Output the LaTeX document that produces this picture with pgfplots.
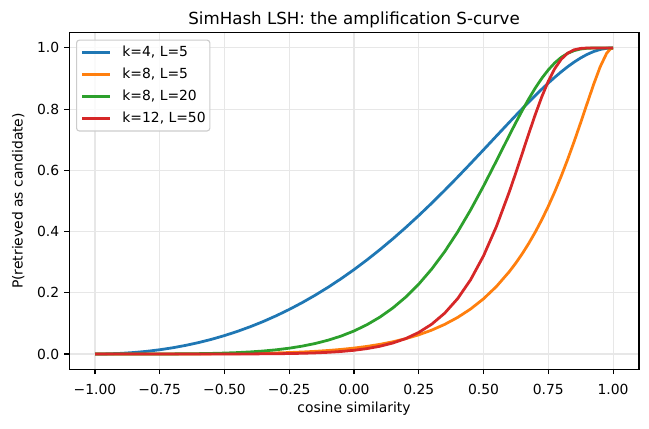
\documentclass[border=0pt]{standalone}
\usepackage{fontspec}
\setmainfont{DejaVu Sans}
\usepackage{pgfplots}
\pgfplotsset{compat=1.18}
\usepackage{pgfplotstable}

\definecolor{tabblue}{HTML}{1F77B4}
\definecolor{taborange}{HTML}{FF7F0E}
\definecolor{tabgreen}{HTML}{2CA02C}
\definecolor{tabred}{HTML}{D62728}
\definecolor{gridgray}{RGB}{231,231,231}
\definecolor{legframe}{RGB}{204,204,204}

% P(candidate) = 1 - (1 - p^k)^L with p = 1 - arccos(s)/pi
\pgfplotstableread{
s      kfourLfive keightLfive keightLtwenty ktwelveLfifty
-1.000 0.000000 0.000000 0.000000 0.000000
-0.990 0.000021 0.000000 0.000000 0.000000
-0.975 0.000129 0.000000 0.000000 0.000000
-0.950 0.000522 0.000000 0.000000 0.000000
-0.900 0.002122 0.000001 0.000004 0.000000
-0.850 0.004854 0.000005 0.000019 0.000000
-0.800 0.008771 0.000015 0.000062 0.000000
-0.750 0.013927 0.000039 0.000157 0.000000
-0.700 0.020378 0.000084 0.000338 0.000003
-0.650 0.028177 0.000162 0.000650 0.000009
-0.600 0.037381 0.000288 0.001152 0.000022
-0.550 0.048044 0.000480 0.001919 0.000047
-0.500 0.060222 0.000762 0.003044 0.000094
-0.450 0.073968 0.001163 0.004642 0.000177
-0.400 0.089336 0.001718 0.006855 0.000319
-0.350 0.106363 0.002471 0.009848 0.000550
-0.300 0.125120 0.003475 0.013826 0.000918
-0.250 0.145632 0.004792 0.019032 0.001487
-0.200 0.167950 0.006501 0.025752 0.002351
-0.150 0.192106 0.008692 0.034318 0.003637
-0.100 0.218114 0.011476 0.045119 0.005521
-0.050 0.246009 0.014985 0.058607 0.008244
 0.000 0.275804 0.019379 0.075293 0.012134
 0.050 0.307477 0.024847 0.095747 0.017628
 0.100 0.341034 0.031619 0.120604 0.025313
 0.150 0.376426 0.039967 0.150536 0.035964
 0.200 0.413602 0.050221 0.186248 0.050602
 0.250 0.452493 0.062776 0.228440 0.070552
 0.300 0.492973 0.078102 0.277675 0.097472
 0.350 0.534905 0.096783 0.334462 0.133453
 0.400 0.578095 0.119487 0.398904 0.180914
 0.450 0.622295 0.147051 0.470710 0.242534
 0.500 0.667237 0.180422 0.548863 0.320814
 0.550 0.712488 0.220855 0.631472 0.417279
 0.600 0.757591 0.269659 0.715460 0.531096
 0.625 0.779915 0.297661 0.756676 0.593084
 0.650 0.801943 0.328385 0.796538 0.656923
 0.675 0.823616 0.362024 0.834340 0.721002
 0.700 0.844805 0.398820 0.869376 0.783047
 0.725 0.865394 0.438972 0.900931 0.840674
 0.750 0.885217 0.482698 0.928387 0.891242
 0.775 0.904208 0.530132 0.951258 0.932548
 0.800 0.922105 0.581373 0.969288 0.963172
 0.825 0.938753 0.636364 0.982514 0.983118
 0.850 0.953939 0.694794 0.991323 0.993955
 0.875 0.967418 0.756058 0.996460 0.998497
 0.900 0.978946 0.818857 0.998923 0.999789
 0.925 0.988226 0.880836 0.999798 0.999989
 0.950 0.994964 0.937877 0.999985 1.000000
 0.975 0.998895 0.982201 1.000000 1.000000
 0.990 0.999865 0.997210 1.000000 1.000000
 1.000 1.000000 1.000000 1.000000 1.000000
}\scurve

\begin{document}
\begin{tikzpicture}
\useasboundingbox (-49.75pt,-42.26pt) rectangle (417.53pt,265.9pt);
\begin{axis}[
  at={(0pt,0pt)}, anchor=south west,
  scale only axis,
  width=410.3pt, height=242.4pt,
  xmin=-1.1, xmax=1.1,
  ymin=-0.05, ymax=1.05,
  axis lines=box,
  axis line style={black, line width=0.8pt},
  every tick/.style={black, line width=0.8pt},
  tick align=outside,
  major tick length=3.5pt,
  xtick pos=bottom, ytick pos=left,
  xtick={-1,-0.75,-0.5,-0.25,0,0.25,0.5,0.75,1},
  xticklabels={−1.00,−0.75,−0.50,−0.25,0.00,0.25,0.50,0.75,1.00},
  ytick={0,0.2,0.4,0.6,0.8,1},
  yticklabels={0.0,0.2,0.4,0.6,0.8,1.0},
  tick label style={font=\fontsize{10}{12}\selectfont},
  xticklabel style={inner sep=0pt, anchor=base, yshift=-14.5pt},
  yticklabel style={inner sep=0pt, anchor=east, xshift=-3.5pt},
  grid=major,
  major grid style={gridgray, line width=0.8pt},
  title={SimHash LSH: the amplification S-curve},
  title style={at={(axis description cs:0.5,1)}, anchor=base, yshift=0pt,
    font=\fontsize{12}{14.4}\selectfont, inner sep=0pt},
  xlabel={cosine similarity},
  xlabel style={at={(axis description cs:0.5,-0.128)}, anchor=base,
    font=\fontsize{10}{12}\selectfont, inner sep=0pt},
  ylabel={P(retrieved as candidate)},
  ylabel style={at={(axis description cs:-0.0894,0.5)}, anchor=center,
    font=\fontsize{10}{12}\selectfont, inner sep=0pt},
  legend cell align=left,
  legend image code/.code={\draw[#1] (0pt,0pt) -- (20pt,0pt);},
  legend style={
    at={(axis description cs:0,1)}, anchor=north west,
    xshift=5pt, yshift=-5pt,
    draw=legframe, line width=0.8pt, rounded corners=2pt,
    fill=white, fill opacity=0.8, text opacity=1,
    font=\fontsize{10}{12}\selectfont,
    inner xsep=3pt, inner ysep=3.9pt,
    row sep=5.2pt,
    nodes={inner xsep=0pt, inner ysep=0pt, text height=8pt, text depth=2.5pt},
    /tikz/every odd column/.append style={column sep=8pt},
  },
  every axis plot/.append style={line width=2pt},
]
\addplot[tabblue] table[x=s, y=kfourLfive] {\scurve};
\addlegendentry{k=4, L=5}
\addplot[taborange] table[x=s, y=keightLfive] {\scurve};
\addlegendentry{k=8, L=5}
\addplot[tabgreen] table[x=s, y=keightLtwenty] {\scurve};
\addlegendentry{k=8, L=20}
\addplot[tabred] table[x=s, y=ktwelveLfifty] {\scurve};
\addlegendentry{k=12, L=50}
\end{axis}
\end{tikzpicture}
\end{document}
